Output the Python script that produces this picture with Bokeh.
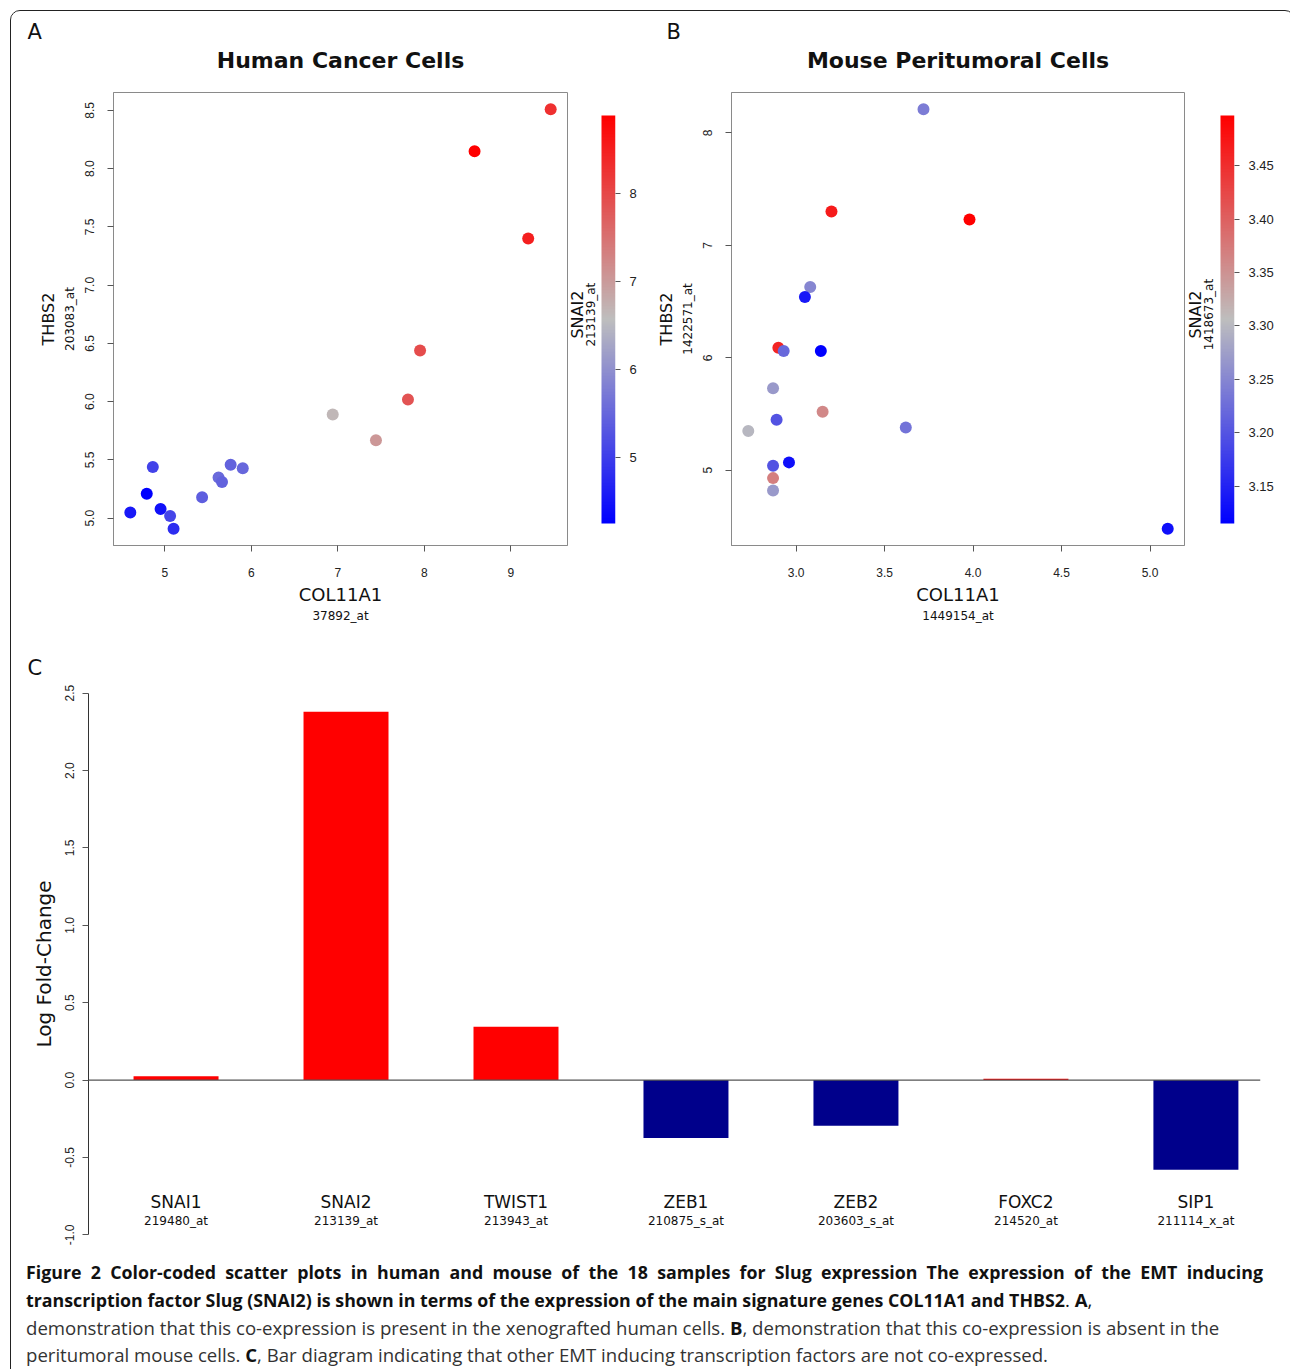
import math
import numpy as np
from bokeh.plotting import figure
from bokeh.layouts import row, column
from bokeh.models import (LinearColorMapper, ColumnDataSource, Title, SingleIntervalTicker,
                          FixedTicker, NumeralTickFormatter, Span, Div, Range1d)
from bokeh.transform import transform
from bokeh.core.properties import value
from bokeh.embed import file_html
from bokeh.resources import INLINE

# ---------------- data ----------------
# Panel A: human cancer cells
a_col11a1 = [9.46, 8.58, 9.20, 7.95, 7.81, 6.94, 7.44, 5.76, 5.90, 5.62, 5.66, 4.86, 4.79, 5.43, 4.60, 4.95, 5.06, 5.10]
a_thbs2 = [8.51, 8.15, 7.40, 6.44, 6.02, 5.89, 5.67, 5.46, 5.43, 5.35, 5.31, 5.44, 5.21, 5.18, 5.05, 5.08, 5.02, 4.91]
a_snai2 = [8.30, 8.88, 8.50, 7.95, 7.85, 6.65, 7.05, 5.45, 5.50, 5.55, 5.45, 5.05, 4.25, 5.40, 4.55, 4.45, 5.10, 4.80]

# Panel B: mouse peritumoral cells
b_col11a1 = [3.72, 3.20, 3.98, 3.08, 3.05, 2.90, 2.93, 3.14, 2.87, 3.15, 2.89, 2.73, 3.62, 2.96, 2.87, 2.87, 2.87, 5.10]
b_thbs2 = [8.21, 7.30, 7.23, 6.63, 6.54, 6.09, 6.06, 6.06, 5.73, 5.52, 5.45, 5.35, 5.38, 5.07, 5.04, 4.93, 4.82, 4.48]
b_snai2 = [3.24, 3.47, 3.497, 3.25, 3.14, 3.46, 3.22, 3.115, 3.27, 3.36, 3.20, 3.30, 3.23, 3.13, 3.20, 3.37, 3.27, 3.13]

# Panel C: log fold-change of EMT transcription factors
c_genes = ["SNAI1", "SNAI2", "TWIST1", "ZEB1", "ZEB2", "FOXC2", "SIP1"]
c_probes = ["219480_at", "213139_at", "213943_at", "210875_s_at", "203603_s_at", "214520_at", "211114_x_at"]
c_logfc = [0.025, 2.38, 0.345, -0.375, -0.295, 0.008, -0.58]
c_ticks = [-1.0, -0.5, 0.0, 0.5, 1.0, 1.5, 2.0, 2.5]

# ---------------- styling helpers ----------------
def ramp(n=256):
    stops = np.array([[0, 0, 255], [190, 190, 190], [255, 0, 0]], dtype=float)
    out = []
    for v in np.linspace(0, 1, n):
        if v <= 0.5:
            c = stops[0] + (stops[1] - stops[0]) * (v / 0.5)
        else:
            c = stops[1] + (stops[2] - stops[1]) * ((v - 0.5) / 0.5)
        out.append("#%02x%02x%02x" % tuple(int(round(x)) for x in c))
    return out

PAL = ramp()
FONT = "DejaVu Sans"
TICKFONT = "Liberation Sans"
ROW_H = 629
TOP, FRAME_H = 81, 453
BOTTOM = ROW_H - TOP - FRAME_H


def r_range(vals):
    lo, hi = min(vals), max(vals)
    pad = 0.04 * (hi - lo)
    return Range1d(lo - pad, hi + pad)


def add_title(p, text, size, side, standoff=0, align="center", bold=False, valign="bottom"):
    t = Title(text=text, text_font_size=f"{size}px", text_font=FONT,
              text_font_style="bold" if bold else "normal", align=align,
              vertical_align=valign, standoff=standoff, text_color="#111111")
    p.add_layout(t, side)
    return t


def set_letter(p, letter, offset, standoff):
    p.title.text = letter
    p.title.text_font = FONT
    p.title.text_font_size = "21px"
    p.title.text_font_style = "normal"
    p.title.align = "left"
    p.title.offset = offset
    p.title.standoff = standoff
    p.title.text_color = "#111111"


def style_axis(ax, size=12):
    ax.axis_line_color = "#8a8a8a"
    ax.major_tick_line_color = "#555555"
    ax.major_tick_out = 6
    ax.major_tick_in = 0
    ax.minor_tick_line_color = None
    ax.major_label_text_font = TICKFONT
    ax.major_label_text_font_size = f"{size}px"
    ax.major_label_text_color = "#222222"


def scatter_panel(x, y, c, letter, title, xname, xprobe, yname, yprobe,
                  xint, yint, xfmt, yfmt, width, left, frame_w):
    mapper = LinearColorMapper(palette=PAL, low=min(c), high=max(c))
    p = figure(width=width, height=ROW_H, x_range=r_range(x), y_range=r_range(y),
               output_backend="svg", toolbar_location=None,
               min_border_left=left, min_border_right=width - left - frame_w,
               min_border_top=TOP, min_border_bottom=BOTTOM)
    p.grid.visible = False
    p.outline_line_color = "#8a8a8a"
    p.outline_line_width = 1
    src = ColumnDataSource(dict(x=x, y=y, c=c))
    p.scatter("x", "y", source=src, size=12, line_color=None,
              fill_color=transform("c", mapper))
    for ax in p.xaxis:
        style_axis(ax)
        ax.ticker = SingleIntervalTicker(interval=xint)
        ax.formatter = NumeralTickFormatter(format=xfmt)
        ax.major_label_standoff = 16
    for ax in p.yaxis:
        style_axis(ax)
        ax.ticker = SingleIntervalTicker(interval=yint)
        ax.formatter = NumeralTickFormatter(format=yfmt)
        ax.major_label_orientation = "vertical"
        ax.major_label_standoff = 13
    add_title(p, title, 22, "above", standoff=35, bold=True, valign="top")
    set_letter(p, letter, offset=-(left - 16), standoff=-26)
    add_title(p, yprobe, 12, "left", standoff=12)
    add_title(p, yname, 16, "left", standoff=-7)
    add_title(p, xname, 18, "below", standoff=4)
    add_title(p, xprobe, 12, "below", standoff=0)
    return p, mapper


def colorbar_panel(mapper, c, interval, fmt, name, probe, width, frame_w):
    lo, hi = min(c), max(c)
    # gradient occupies 408 px of the 453 px frame: 23 px free above, 22 px below
    ppu = 408.0 / (hi - lo)
    p = figure(width=width, height=ROW_H, x_range=Range1d(0, frame_w),
               y_range=Range1d(lo - 22 / ppu, hi + 23 / ppu),
               output_backend="svg", toolbar_location=None,
               x_axis_location=None, y_axis_location="right",
               min_border_left=0, min_border_right=width - frame_w,
               min_border_top=TOP, min_border_bottom=BOTTOM)
    p.grid.visible = False
    p.outline_line_color = None
    grad = np.linspace(lo, hi, 256).reshape(256, 1)
    p.image(image=[grad], x=frame_w - 14, y=lo, dw=14, dh=hi - lo, color_mapper=mapper)
    mid = (lo + hi) / 2 + 0.012 * (hi - lo)
    p.text(x=[8], y=[mid], text=[name], angle=np.pi / 2, text_font=value(FONT),
           text_font_size=value("16px"), text_align="center", text_baseline="middle",
           text_color="#111111")
    p.text(x=[21], y=[mid], text=[probe], angle=np.pi / 2, text_font=value(FONT),
           text_font_size=value("12px"), text_align="center", text_baseline="middle",
           text_color="#111111")
    k0, k1 = math.ceil(lo / interval - 1e-9), math.floor(hi / interval + 1e-9)
    ticks = [round(k * interval, 4) for k in range(k0, k1 + 1)]
    for ax in p.yaxis:
        style_axis(ax, 13)
        ax.axis_line_color = None
        ax.major_tick_out = 5
        ax.major_label_standoff = 9
        ax.ticker = FixedTicker(ticks=ticks)
        ax.formatter = NumeralTickFormatter(format=fmt)
    return p


pA, mapA = scatter_panel(a_col11a1, a_thbs2, a_snai2, "A", "Human Cancer Cells",
                         "COL11A1", "37892_at", "THBS2", "203083_at",
                         1, 0.5, "0", "0.0", 558, 102, 454)
cbA = colorbar_panel(mapA, a_snai2, 1, "0", "SNAI2", "213139_at", 81, 46)
pB, mapB = scatter_panel(b_col11a1, b_thbs2, b_snai2, "B", "Mouse Peritumoral Cells",
                         "COL11A1", "1449154_at", "THBS2", "1422571_at",
                         0.5, 1, "0.0", "0", 537, 81, 453)
cbB = colorbar_panel(mapB, b_snai2, 0.05, "0.00", "SNAI2", "1418673_at", 97, 47)

# ---------------- panel C ----------------
idx = list(range(len(c_genes)))
bar_colors = ["#ff0000" if v > 0 else "#00008b" for v in c_logfc]
pad = 0.04 * (max(c_ticks) - min(c_ticks))
pC = figure(width=1273, height=616, x_range=Range1d(-0.515, 6.38),
            y_range=Range1d(min(c_ticks) - pad, max(c_ticks) + pad),
            output_backend="svg", toolbar_location=None, x_axis_location=None,
            min_border_left=77, min_border_right=24, min_border_top=31, min_border_bottom=0)
pC.grid.visible = False
pC.outline_line_color = None
srcC = ColumnDataSource(dict(x=idx, top=c_logfc, color=bar_colors, gene=c_genes, probe=c_probes,
                             gy=[-0.79] * len(idx), py=[-0.91] * len(idx)))
pC.vbar(x="x", top="top", bottom=0, width=0.5, source=srcC, fill_color="color", line_color=None)
pC.add_layout(Span(location=0, dimension="width", line_color="#555555", line_width=1.2))
pC.text(x="x", y="gy", text="gene", source=srcC, text_font=value(FONT),
        text_font_size=value("17px"), text_align="center", text_baseline="middle",
        text_color="#111111")
pC.text(x="x", y="py", text="probe", source=srcC, text_font=value(FONT),
        text_font_size=value("12px"), text_align="center", text_baseline="middle",
        text_color="#111111")
for ax in pC.yaxis:
    style_axis(ax, 12)
    ax.axis_line_color = "#333333"
    ax.bounds = (min(c_ticks), max(c_ticks))
    ax.ticker = FixedTicker(ticks=c_ticks)
    ax.formatter = NumeralTickFormatter(format="0.0")
    ax.major_label_orientation = "vertical"
    ax.major_label_standoff = 8
add_title(pC, "Log Fold-Change", 20, "left", standoff=14)
set_letter(pC, "C", offset=-61, standoff=-17)

# ---------------- caption ----------------
cap = Div(width=1273, height=112, text=(
    "<div style=\"font-family:'Open Sans',sans-serif;font-size:18.6px;line-height:27px;"
    "color:#111;padding:0 6px 0 10px;margin-top:-2px;width:1253px;\">"
    "<div style='font-weight:bold;font-size:17.8px;text-align:justify;text-align-last:justify;'>"
    "Figure 2 Color-coded scatter plots in human and mouse of the 18 samples for Slug expression "
    "The expression of the EMT inducing</div>"
    "<div><b style='font-size:17.8px'>transcription factor Slug (SNAI2) is shown in terms of the "
    "expression of the main signature genes COL11A1 and THBS2</b>. <b>A</b>,</div>"
    "<div style='color:#333;'>demonstration that this co-expression is present in the xenografted "
    "human cells. <b style='color:#111'>B</b>, demonstration that this co-expression is absent in the</div>"
    "<div style='color:#333;'>peritumoral mouse cells. <b style='color:#111'>C</b>, Bar diagram "
    "indicating that other EMT inducing transcription factors are not co-expressed.</div>"
    "</div>"))

layout = column(row(pA, cbA, pB, cbB), pC, cap,
                styles={"border": "1.5px solid #222", "border-radius": "10px",
                        "margin": "10px 0 0 10px", "overflow": "hidden"})

open("out.html", "w").write(file_html(layout, INLINE))
